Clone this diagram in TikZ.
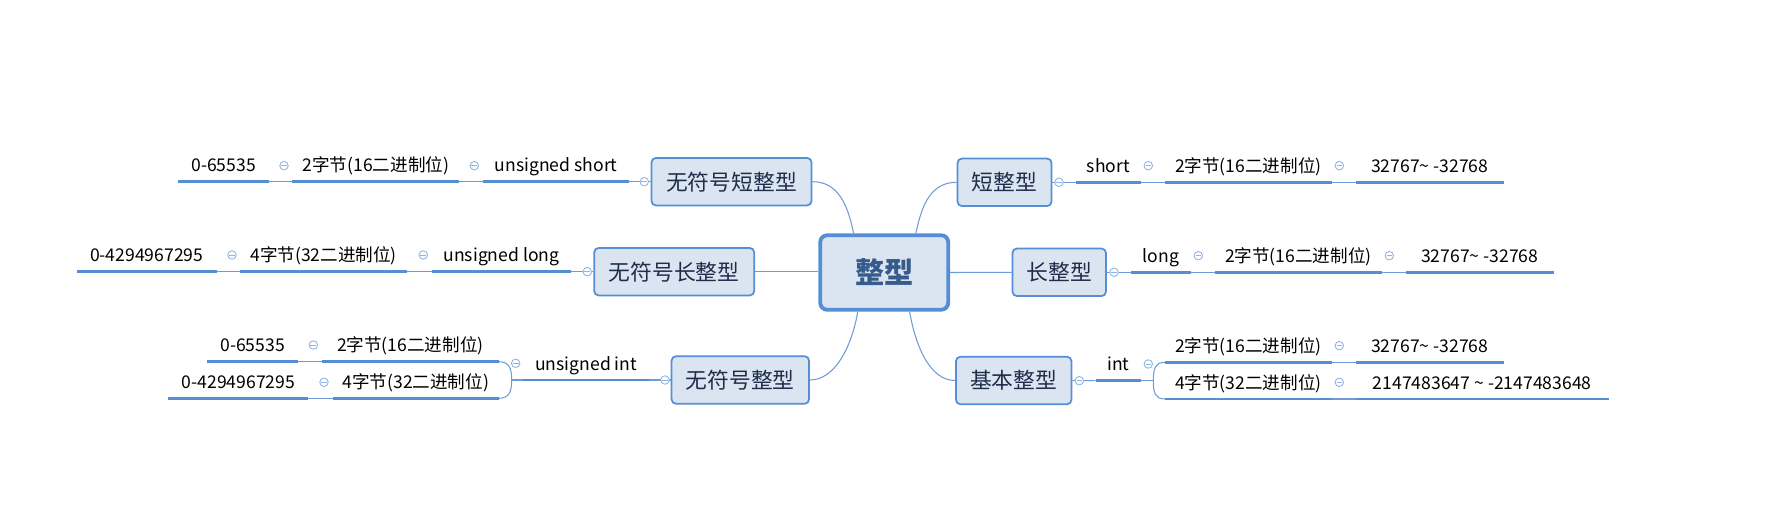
\documentclass[tikz,border=0pt]{standalone}
\usepackage{fontspec}
\setmainfont{Noto Sans CJK SC}
\definecolor{boxfill}{HTML}{DBE5F1}
\definecolor{boxline}{HTML}{558ED5}
\definecolor{linkline}{HTML}{6E9BD6}
\definecolor{togline}{HTML}{8EB4E3}
\definecolor{boxtext}{HTML}{1E2D4A}
\definecolor{roottext}{HTML}{355C8C}
\tikzset{
  leaf/.style={anchor=south west, inner sep=0pt, minimum height=0.64cm,
    text height=9pt, text depth=1.5pt, font=\fontsize{10}{12}\selectfont},
  uline/.style={draw=boxline, line width=1.7pt},
  link/.style={draw=linkline, line width=0.6pt},
  topic/.style={draw=boxline, fill=boxfill, line width=1pt, rounded corners=2.5pt,
    minimum height=0.95cm, inner sep=0pt, text=boxtext, font=\fontsize{12.4}{14}\selectfont},
  root/.style={draw=boxline, fill=boxfill, line width=2.2pt, rounded corners=4pt,
    minimum width=2.56cm, minimum height=1.49cm, inner sep=0pt, text=roottext,
    font=\fontsize{16.6}{19}\selectfont\bfseries},
  tog/.style={circle, draw=togline, fill=white, line width=0.5pt, minimum size=0.17cm,
    inner sep=0pt, path picture={\draw[togline, line width=0.5pt]
      ([xshift=-1.6pt]path picture bounding box.center) --
      ([xshift=1.6pt]path picture bounding box.center);}}
}
\begin{document}
\begin{tikzpicture}[x=0.02cm, y=-0.02cm]
    \useasboundingbox (0,0) rectangle (1777,523);
    % root and first level topics
    \node[root] (root) at (884.2,272.5) {整型};
    \node[topic, minimum width=3.2cm] (ushort) at (731.5,181.7) {无符号短整型};
    \node[topic, minimum width=3.2cm] (ulong) at (674.2,271.7) {无符号长整型};
    \node[topic, minimum width=2.75cm] (uint) at (740.3,380) {无符号整型};
    \node[topic, minimum width=1.88cm] (short) at (1004.5,182.3) {短整型};
    \node[topic, minimum width=1.87cm] (long) at (1059.2,272.3) {长整型};
    \node[topic, minimum width=2.31cm] (int) at (1013.7,380.5) {基本整型};

    % left branches
    \node[leaf, minimum width=2.9cm] (usk) at (483.3,181.7) {unsigned short};
    \node[leaf, minimum width=3.33cm] (usb) at (292.3,181.7) {2字节(16二进制位)};
    \node[leaf, minimum width=1.8cm] (usr) at (178.3,181.7) {0-65535};
    \node[leaf, minimum width=2.78cm] (ulk) at (431.7,271.7) {unsigned long};
    \node[leaf, minimum width=3.33cm] (ulb) at (240,271.7) {4字节(32二进制位)};
    \node[leaf, minimum width=2.79cm] (ulr) at (76.7,271.7) {0-4294967295};
    \node[leaf, minimum width=2.5cm] (uik) at (523.3,380) {unsigned int};
    \node[leaf, minimum width=3.53cm] (uib1) at (321.7,361.7) {2字节(16二进制位)};
    \node[leaf, minimum width=1.8cm] (uir1) at (207.3,361.7) {0-65535};
    \node[leaf, minimum width=3.31cm] (uib2) at (332.7,398.3) {4字节(32二进制位)};
    \node[leaf, minimum width=2.79cm] (uir2) at (168.3,398.3) {0-4294967295};

    % right branches
    \node[leaf, minimum width=1.29cm] (sk) at (1075.7,182.3) {short};
    \node[leaf, minimum width=3.32cm] (sb) at (1165,182.3) {2字节(16二进制位)};
    \node[leaf, minimum width=2.95cm] (sr) at (1355.7,182.3) {32767\textasciitilde{} -32768};
    \node[leaf, minimum width=1.19cm] (lk) at (1130.7,272.3) {long};
    \node[leaf, minimum width=3.32cm] (lb) at (1215,272.3) {2字节(16二进制位)};
    \node[leaf, minimum width=2.95cm] (lr) at (1405.7,272.3) {32767\textasciitilde{} -32768};
    \node[leaf, minimum width=0.89cm] (ik) at (1095.7,380.7) {int};
    \node[leaf, minimum width=3.32cm] (ib1) at (1165,362.3) {2字节(16二进制位)};
    \node[leaf, minimum width=2.95cm] (ir1) at (1355.7,362.3) {32767\textasciitilde{} -32768};
    \node[leaf, minimum width=3.32cm] (ib2) at (1165,399) {4字节(32二进制位)};
    \node[leaf, minimum width=5.05cm] (ir2) at (1355.7,399) {2147483647 \textasciitilde{} -2147483648};

    % links from the root
    \draw[link] (root.128) .. controls +(-6,-30) and +(25,0) .. (ushort.east);
    \draw[link] (root.51) .. controls +(6,-30) and +(-25,0) .. (short.west);
    \draw[link] (root.236) .. controls +(-6,35) and +(25,0) .. (uint.east);
    \draw[link] (root.303) .. controls +(6,35) and +(-25,0) .. (int.west);
    \draw[link] (ulong.east) -- (ulong.east -| root.west);
    \draw[link] (root.east) -- (long.west);

    % links between topics
    \draw[link] (ushort.west) -- (usk.south east);
    \draw[link] (usk.south west) -- (usb.south east);
    \draw[link] (usb.south west) -- (usr.south east);
    \draw[link] (ulong.west) -- (ulk.south east);
    \draw[link] (ulk.south west) -- (ulb.south east);
    \draw[link] (ulb.south west) -- (ulr.south east);
    \draw[link] (uint.west) -- (uik.south east);
    \draw[link] (uib1.south west) -- (uir1.south east);
    \draw[link] (uib2.south west) -- (uir2.south east);
    \draw[link] (short.east) -- (sk.south west);
    \draw[link] (sk.south east) -- (sb.south west);
    \draw[link] (sb.south east) -- (sr.south west);
    \draw[link] (long.east) -- (lk.south west);
    \draw[link] (lk.south east) -- (lb.south west);
    \draw[link] (lb.south east) -- (lr.south west);
    \draw[link] (int.east) -- (ik.south west);
    \draw[link] (ib1.south east) -- (ir1.south west);
    \draw[link] (ib2.south east) -- (ir2.south west);

    % brackets
    \coordinate (uibr) at (511.7,380);
    \draw[link] (uik.south west) -- (uibr);
    \draw[link] (uib1.south east) .. controls +(10,0) and +(0,-12) .. (uibr)
        .. controls +(0,12) and +(10,0) .. (uib2.south east);
    \coordinate (ibr) at (1153.3,380.7);
    \draw[link] (ik.south east) -- (ibr);
    \draw[link] (ib1.south west) .. controls +(-10,0) and +(0,-12) .. (ibr)
        .. controls +(0,12) and +(-10,0) .. (ib2.south west);

    % underlines
    \foreach \n in {usk,usb,usr,ulk,ulb,ulr,uik,uib1,uir1,uib2,uir2,
                    sk,sb,sr,lk,lb,lr,ik,ib1,ir1,ib2,ir2}
        \draw[uline] (\n.south west) -- (\n.south east);

    % collapse buttons
    \node[tog] (t1) at (644.3,181.7) {};
    \node[tog] (t2) at (474.3,165.7) {};
    \node[tog] (t3) at (284,165.7) {};
    \node[tog] (t4) at (587.3,271.7) {};
    \node[tog] (t5) at (423.3,255) {};
    \node[tog] (t6) at (232,255) {};
    \node[tog] (t7) at (665,380) {};
    \node[tog] (t8) at (515.7,363.3) {};
    \node[tog] (t9) at (313.3,345) {};
    \node[tog] (t10) at (324,382.3) {};
    \node[tog] (t11) at (1059,182.3) {};
    \node[tog] (t12) at (1148.3,165.7) {};
    \node[tog] (t13) at (1339.3,165.7) {};
    \node[tog] (t14) at (1114,272.3) {};
    \node[tog] (t15) at (1198.3,255.7) {};
    \node[tog] (t16) at (1389.3,255.7) {};
    \node[tog] (t17) at (1079.3,380.7) {};
    \node[tog] (t18) at (1148.3,364) {};
    \node[tog] (t19) at (1339.3,345.7) {};
    \node[tog] (t20) at (1339.3,382.3) {};
\end{tikzpicture}
\end{document}
